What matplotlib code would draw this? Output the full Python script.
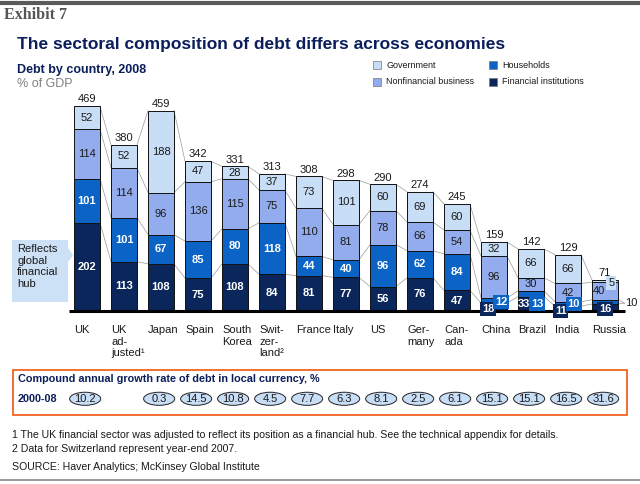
import matplotlib
matplotlib.use("Agg")
import matplotlib.pyplot as plt
from matplotlib.patches import Ellipse, Rectangle, Polygon

plt.rcParams["font.family"] = ["Liberation Sans", "DejaVu Sans"]

countries = ["UK", "UK\nad-\njusted¹", "Japan", "Spain", "South\nKorea",
             "Swit-\nzer-\nland²", "France", "Italy", "US", "Ger-\nmany",
             "Can-\nada", "China", "Brazil", "India", "Russia"]
financial = [202, 113, 108, 75, 108, 84, 81, 77, 56, 76, 47, 18, 33, 11, 16]
households = [101, 101, 67, 85, 80, 118, 44, 40, 96, 62, 84, 12, 13, 10, 10]
nonfinancial = [114, 114, 96, 136, 115, 75, 110, 81, 78, 66, 54, 96, 30, 42, 40]
government = [52, 52, 188, 47, 28, 37, 73, 101, 60, 69, 60, 32, 66, 66, 5]
totals = [469, 380, 459, 342, 331, 313, 308, 298, 290, 274, 245, 159, 142, 129, 71]
cagr = ["10.2", "", "0.3", "14.5", "10.8", "4.5", "7.7", "6.3", "8.1", "2.5",
        "6.1", "15.1", "15.1", "16.5", "31.6"]

series = [financial, households, nonfinancial, government]
names = ["Financial institutions", "Households", "Nonfinancial business", "Government"]
colors = ["#0B265B", "#0B63C6", "#93ACEE", "#C8DDF6"]
label_colors = ["white", "white", "#1A1A1A", "#1A1A1A"]
label_weights = ["bold", "bold", "normal", "normal"]

NAVY = "#0B1E5B"
W = 0.70

# labels for thin segments: (bar, series) -> (dx, y, boxed)
small = {
    (11, 0): (-0.16, 3.5, True), (11, 1): (0.19, 21, True),
    (12, 0): (-0.19, 17, False), (12, 1): (0.16, 17, True),
    (13, 0): (-0.20, 0, True), (13, 1): (0.16, 15, True),
    (14, 0): (0.0, 4.5, True), (14, 1): (None, 18, False),
    (14, 2): (-0.16, 46, False), (14, 3): (0.17, 65, True),
}

fig = plt.figure(figsize=(6.4, 4.84), dpi=100)

# overlay in pixel coordinates for decorations
bg = fig.add_axes([0, 0, 1, 1])
bg.set_xlim(0, 640)
bg.set_ylim(484, 0)
bg.axis("off")

ax = fig.add_axes([60 / 640, 173 / 484, 570 / 640, 214 / 484])
ax.set_xlim((60 - 87) / 37, (630 - 87) / 37)
ax.set_ylim(0, 490)
ax.axis("off")

x = list(range(len(countries)))
bottoms = [0] * len(x)
levels = [[0] * len(x)]
for k, vals in enumerate(series):
    ax.bar(x, vals, W, bottom=bottoms, color=colors[k], edgecolor="#111111",
           linewidth=0.7, zorder=3)
    for i, v in enumerate(vals):
        key = (i, k)
        if key in small:
            dx, yy, boxed = small[key]
            if dx is None:
                ax.text(14.55, yy, str(v), ha="left", va="center", fontsize=8,
                        color="#1A1A1A", zorder=5, clip_on=False)
                for yb in (bottoms[i], bottoms[i] + v):
                    ax.plot([i + W / 2, 14.53], [yb, yy], color="#999999",
                            lw=0.5, zorder=2, clip_on=False)
                continue
            box = None
            if boxed:
                box = dict(boxstyle="square,pad=0.18", fc=colors[k], ec="none")
            ax.text(i + dx, yy, str(v), ha="center", va="center", fontsize=8,
                    color=label_colors[k], fontweight=label_weights[k], zorder=6,
                    clip_on=False, bbox=box)
        else:
            ax.text(i, bottoms[i] + v / 2, str(v), ha="center", va="center",
                    fontsize=8, color=label_colors[k], fontweight=label_weights[k],
                    zorder=5)
    bottoms = [b + v for b, v in zip(bottoms, vals)]
    levels.append(list(bottoms))

# connectors between neighbouring bars
for lev in levels[1:]:
    for i in range(len(x) - 1):
        ax.plot([i + W / 2, i + 1 - W / 2], [lev[i], lev[i + 1]],
                color="#9A9A9A", lw=0.5, zorder=2)

for i, t in enumerate(totals):
    ax.text(i, max(bottoms[i], t) + 4, str(t), ha="center", va="bottom",
            fontsize=8, color="#1A1A1A")

ax.plot([-0.49, 14.54], [0, 0], color="black", lw=2.2, zorder=4,
        solid_capstyle="butt", clip_on=False)

for i, c in enumerate(countries):
    ax.text(i - W / 2, -32, c, ha="left", va="top", fontsize=8,
            color="#1A1A1A", linespacing=1.2)

# CAGR ellipses
for i, v in enumerate(cagr):
    if not v:
        continue
    ax.add_patch(Ellipse((i - 0.05, -201), 0.84, 30, fc="#C8DDF6",
                         ec="#222222", lw=0.7, clip_on=False))
    ax.text(i - 0.05, -201, v, ha="center", va="center", fontsize=8,
            color="#1A1A1A")

# header
bg.plot([0, 640], [3, 3], color="#5A5A5A", lw=3)
bg.text(4, 15, "Exhibit 7", family="Liberation Serif", fontweight="bold",
        fontsize=11.5, color="#555555", va="center")
bg.text(17, 44, "The sectoral composition of debt differs across economies",
        fontsize=12.5, fontweight="bold", color=NAVY, va="center")
bg.text(17, 70, "Debt by country, 2008", fontsize=9, fontweight="bold",
        color=NAVY, va="center")
bg.text(17, 84, "% of GDP", fontsize=9, color="#808080", va="center")

# legend
leg = [(377, 65, 3), (377, 82, 2), (493, 65, 1), (493, 82, 0)]
for lx, ly, k in leg:
    bg.add_patch(Rectangle((lx - 4, ly - 4), 8, 8, fc=colors[k], ec="#777777", lw=0.5))
    bg.text(lx + 9.5, ly, names[k], fontsize=6.5, color="#1A1A1A", va="center")

# callout
bg.add_patch(Polygon([(12, 240), (68, 240), (68, 248), (73, 255), (68, 262),
                      (68, 302), (12, 302)], closed=True, fc="#CCE0F6", ec="none"))
bg.text(17, 244, "Reflects\nglobal\nfinancial\nhub", fontsize=8, color="#1A1A1A",
        va="top", linespacing=1.2)

# CAGR box
bg.add_patch(Rectangle((12.5, 370), 614, 45, fc="none", ec="#F26522", lw=1.3))
bg.text(18, 379, "Compound annual growth rate of debt in local currency, %",
        fontsize=7.8, fontweight="bold", color=NAVY, va="center")
bg.text(18, 399, "2000-08", fontsize=7.8, fontweight="bold", color=NAVY, va="center")

# footnotes
bg.text(12, 435, "1 The UK financial sector was adjusted to reflect its position as a "
        "financial hub. See the technical appendix for details.", fontsize=7.6,
        color="#1A1A1A", va="center")
bg.text(12, 449, "2 Data for Switzerland represent year-end 2007.", fontsize=7.6,
        color="#1A1A1A", va="center")
bg.text(12, 467, "SOURCE: Haver Analytics; McKinsey Global Institute", fontsize=7.6,
        color="#1A1A1A", va="center")
bg.plot([0, 640], [480, 480], color="#888888", lw=1.2)

fig.savefig("out.png", dpi=100)
